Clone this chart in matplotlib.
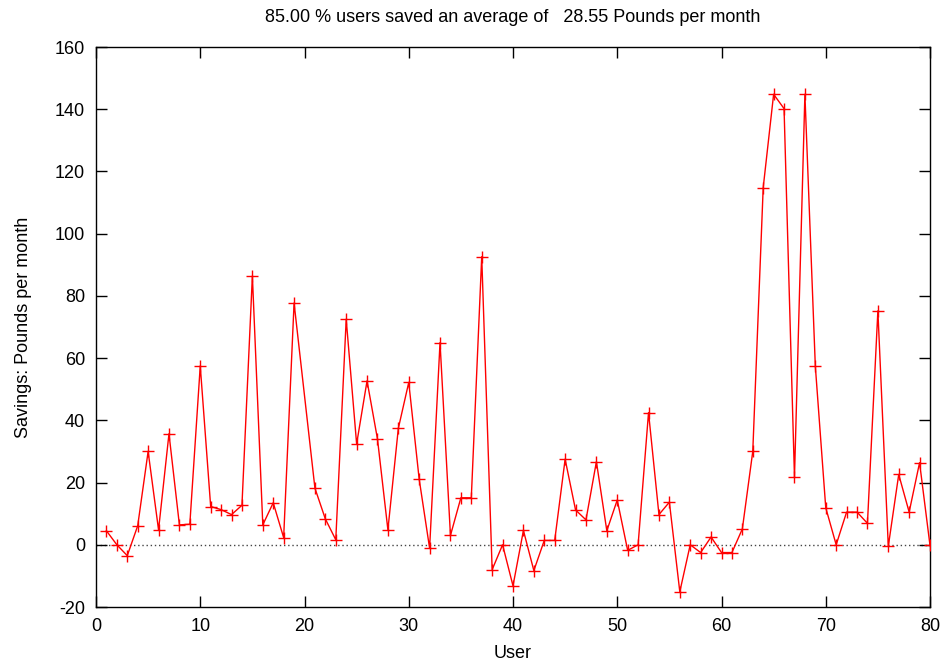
import matplotlib
matplotlib.use("Agg")
import matplotlib.pyplot as plt

plt.rcParams['font.family'] = ['Liberation Sans', 'DejaVu Sans']
plt.rcParams['axes.unicode_minus'] = False

users = [1, 2, 3, 4, 5, 6, 7, 8, 9, 10,
         11, 12, 13, 14, 15, 16, 17, 18, 19,
         21, 22, 23, 24, 25, 26, 27, 28, 29, 30,
         31, 32, 33, 34, 35, 36, 37, 38, 39, 40,
         41, 42, 43, 44, 45, 46, 47, 48, 49, 50,
         51, 52, 53, 54, 55, 56, 57, 58, 59, 60,
         61, 62, 63, 64, 65, 66, 67, 68, 69, 70,
         71, 72, 73, 74, 75, 76, 77, 78, 79, 80]
savings = [4.5, 0.0, -3.5, 6.1, 30.0, 4.8, 35.7, 6.4, 6.6, 57.5,
           12.3, 11.3, 9.7, 12.7, 86.4, 6.4, 13.5, 2.3, 77.7,
           18.2, 8.3, 1.6, 72.5, 32.4, 52.7, 34.0, 4.8, 37.4, 52.2,
           21.1, -1.1, 65.0, 3.0, 15.1, 15.1, 92.6, -8.0, 0.0, -13.2,
           4.6, -8.3, 1.4, 1.4, 27.5, 11.2, 8.0, 26.7, 4.5, 14.4,
           -1.8, 0.0, 42.5, 9.7, 13.7, -15.1, 0.0, -2.5, 2.5, -2.5,
           -2.5, 5.1, 30.0, 114.8, 144.8, 140.2, 21.7, 144.8, 57.4, 11.9,
           0.0, 10.5, 10.5, 6.9, 75.2, -0.5, 22.6, 10.5, 26.4, -0.2]

x_ticks = [0, 10, 20, 30, 40, 50, 60, 70, 80]
y_ticks = [-20, 0, 20, 40, 60, 80, 100, 120, 140, 160]

title = "85.00 % users saved an average of   28.55 Pounds per month"

fig = plt.figure(figsize=(9.46, 6.65), dpi=100)
ax = fig.add_axes([96/946, 1-607/665, (930-96)/946, (607-47)/665])

ax.axhline(0, color='#444444', linestyle=(0, (1, 2)), linewidth=1.0, zorder=1)
ax.plot(users, savings, color='red', linewidth=1.0, marker='+',
        markersize=9, markeredgewidth=1.0, zorder=3)

ax.set_xlim(0, 80)
ax.set_ylim(-20, 160)
ax.set_xticks(x_ticks)
ax.set_yticks(y_ticks)
ax.tick_params(direction='in', length=8, width=1, top=True, right=True,
               labelsize=13, pad=8)
for s in ax.spines.values():
    s.set_linewidth(1.0)

ax.set_xlabel("User", fontsize=13, labelpad=7)
ax.set_ylabel("Savings: Pounds per month", fontsize=13, labelpad=16)
fig.text(0.5*(96+930)/946, 1-18/665, title, ha='center', va='center', fontsize=13)

fig.savefig("out.png", dpi=100)
